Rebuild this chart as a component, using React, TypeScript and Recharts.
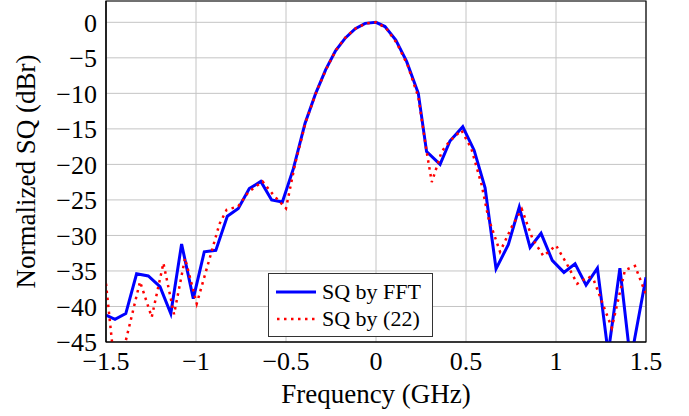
import React from "react";
import {
  CartesianGrid,
  Label,
  Line,
  LineChart,
  ReferenceArea,
  XAxis,
  YAxis,
} from "recharts";

// SQ by FFT (blue, solid)
const fftFreq = [
  -1.5, -1.45, -1.39, -1.33, -1.265, -1.2, -1.14, -1.08, -1.015, -0.954,
  -0.89, -0.826, -0.765, -0.704, -0.64, -0.58, -0.52, -0.459, -0.394, -0.335,
  -0.28, -0.225, -0.17, -0.115, -0.06, 0, 0.05, 0.11, 0.17, 0.235, 0.281,
  0.356, 0.411, 0.482, 0.545, 0.606, 0.667, 0.735, 0.796, 0.856, 0.917,
  0.979, 1.044, 1.106, 1.167, 1.23, 1.29, 1.355, 1.414, 1.5,
];
const fftSq = [
  -41.2, -41.8, -41.0, -35.4, -35.7, -37.2, -41.0, -31.2, -38.9, -32.3,
  -32.1, -27.3, -26.2, -23.4, -22.4, -25.0, -25.3, -20.6, -14.2, -10.0,
  -6.7, -4.0, -2.2, -0.9, -0.15, 0, -0.6, -2.5, -5.5, -10.0, -18.2,
  -20.0, -16.7, -14.7, -18.0, -23.3, -34.7, -31.3, -26.0, -31.7, -29.7,
  -33.5, -35.2, -34.0, -37.0, -34.6, -46.6, -34.6, -47.7, -35.9,
];

// SQ by (22) (red, dotted)
const calcFreq = [
  -1.5, -1.444, -1.311, -1.246, -1.181, -1.122, -1.061, -0.996, -0.935,
  -0.87, -0.83, -0.765, -0.709, -0.63, -0.57, -0.5, -0.45, -0.39, -0.33,
  -0.275, -0.22, -0.165, -0.11, -0.055, 0, 0.055, 0.115, 0.175, 0.235, 0.28,
  0.31, 0.365, 0.41, 0.475, 0.53, 0.587, 0.624, 0.689, 0.754, 0.81, 0.87,
  0.93, 1.0, 1.06, 1.118, 1.18, 1.21, 1.31, 1.383, 1.439, 1.5,
];
const calcSq = [
  -36.8, -50.5, -36.5, -41.5, -33.9, -41.1, -33.2, -39.6, -34.2,
  -28.4, -26.4, -25.9, -23.9, -22.4, -24.3, -26.2, -20.0, -14.0, -9.7,
  -6.5, -3.8, -2.0, -0.8, -0.15, 0, -0.8, -2.9, -6.0, -10.5, -18.0,
  -22.5, -18.2, -16.7, -15.2, -17.8, -22.9, -27.5, -32.3, -28.8, -26.3, -30.5,
  -32.9, -31.4, -34.0, -36.8, -35.8, -36.3, -43.0, -34.9, -34.3, -38.3,
];

const xTicks = [-1.5, -1, -0.5, 0, 0.5, 1, 1.5];
const yTicks = [-45, -40, -35, -30, -25, -20, -15, -10, -5, 0];

const fftData = fftFreq.map((f, i) => ({ f, sq: fftSq[i] }));
const calcData = calcFreq.map((f, i) => ({ f, sq: calcSq[i] }));

const FONT = "Liberation Serif, Times New Roman, serif";
const tickStyle = { fontFamily: FONT, fontSize: 26, fill: "#000" };
const fmt = (v: number) => String(v).replace("-", "\u2212");

const LegendBox = () => (
  <div
    style={{
      position: "absolute",
      left: 268,
      top: 273,
      width: 165,
      height: 64,
      boxSizing: "border-box",
      border: "1px solid #333",
      background: "#fff",
      fontFamily: FONT,
      fontSize: 22,
      color: "#000",
    }}
  >
    <div style={{ position: "absolute", left: 7, top: 6, display: "flex", alignItems: "center" }}>
      <svg width={40} height={24}>
        <line x1={0} y1={12} x2={40} y2={12} stroke="#0000ff" strokeWidth={3} />
      </svg>
      <span style={{ marginLeft: 6, lineHeight: "24px" }}>SQ by FFT</span>
    </div>
    <div style={{ position: "absolute", left: 7, top: 33, display: "flex", alignItems: "center" }}>
      <svg width={40} height={24}>
        <line
          x1={1}
          y1={12}
          x2={40}
          y2={12}
          stroke="#ff0000"
          strokeWidth={2.5}
          strokeDasharray="2.5 4.5"
        />
      </svg>
      <span style={{ marginLeft: 6, lineHeight: "24px" }}>SQ by (22)</span>
    </div>
  </div>
);

const App = () => {
  return (
    <div style={{ position: "absolute", left: 0, top: 0, width: 689, height: 416, background: "#fff" }}>
      <LineChart width={689} height={416} margin={{ top: 1, right: 43, bottom: 0, left: 0 }}>
        <CartesianGrid stroke="#c4c4c4" strokeWidth={1} />
        <XAxis
          type="number"
          dataKey="f"
          domain={[-1.5, 1.5]}
          ticks={xTicks}
          allowDataOverflow
          height={74}
          tick={tickStyle}
          tickFormatter={fmt}
          tickLine={false}
          tickSize={8}
          tickMargin={2}
          axisLine={{ stroke: "#000", strokeWidth: 1.2 }}
        >
          <Label
            value="Frequency (GHz)"
            position="insideBottom"
            offset={13}
            style={{ fontFamily: FONT, fontSize: 27, fill: "#000" }}
          />
        </XAxis>
        <YAxis
          type="number"
          domain={[-45, 3]}
          ticks={yTicks}
          allowDataOverflow
          width={106}
          tick={tickStyle}
          tickFormatter={fmt}
          tickLine={false}
          tickSize={7}
          tickMargin={2}
          axisLine={{ stroke: "#000", strokeWidth: 1.2 }}
        >
          <Label
            value="Normalized SQ (dBr)"
            angle={-90}
            position="insideLeft"
            offset={25}
            textAnchor="middle"
            style={{ fontFamily: FONT, fontSize: 27, fill: "#000" }}
          />
        </YAxis>
        <YAxis
          yAxisId="right"
          orientation="right"
          type="number"
          domain={[-45, 3]}
          ticks={yTicks}
          width={0}
          mirror
          axisLine={false}
          tickSize={9}
          tickLine={{ stroke: "#9a9a9a", strokeWidth: 1 }}
          tick={() => <g />}
        />
        <ReferenceArea x1={-1.5} x2={1.5} y1={-45} y2={3} fill="none" stroke="#000" strokeWidth={1.2} />
        <Line
          data={fftData}
          dataKey="sq"
          type="linear"
          stroke="#0000ff"
          strokeWidth={3}
          dot={false}
          isAnimationActive={false}
        />
        <Line
          data={calcData}
          dataKey="sq"
          type="linear"
          stroke="#ff0000"
          strokeWidth={2.5}
          strokeDasharray="2.5 4.5"
          dot={false}
          isAnimationActive={false}
        />
      </LineChart>
      <LegendBox />
    </div>
  );
};

export default App;
